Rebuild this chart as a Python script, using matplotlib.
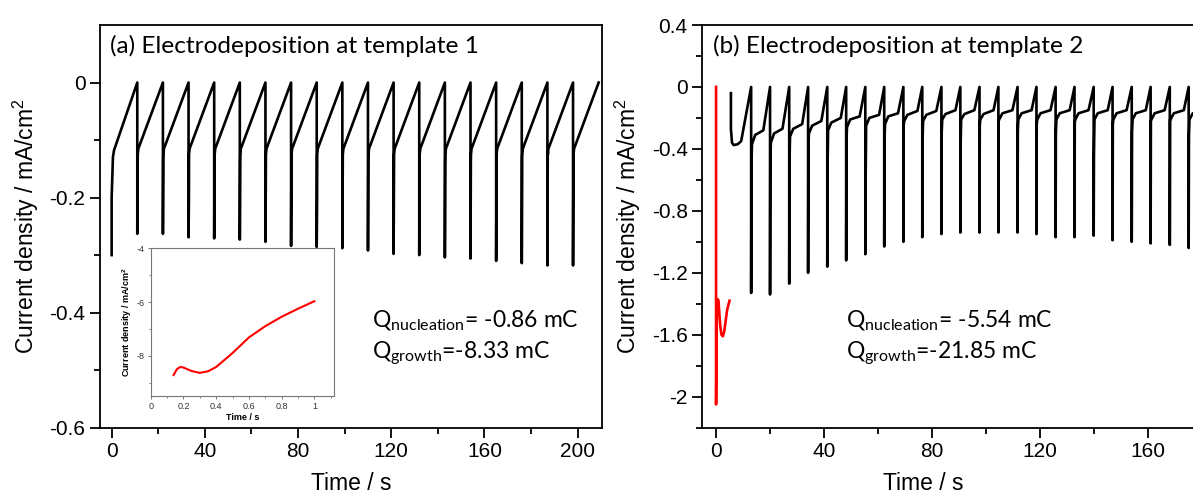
import numpy as np
import matplotlib
matplotlib.use('Agg')
from matplotlib import pyplot as plt
from matplotlib.ticker import MultipleLocator, FuncFormatter

plt.rcParams['font.family'] = ['Liberation Sans', 'DejaVu Sans']
plt.rcParams['axes.unicode_minus'] = False
plt.rcParams['mathtext.default'] = 'regular'

# ---- data ----
# (a) template 1: peaks every ~11 s, spike minima and the dip after each spike
peaks_a = [11, 22, 33, 44, 55, 66, 77, 88, 99, 110, 121, 132, 143, 154, 165, 176, 187, 198, 209]
mins_a = [-0.263, -0.263, -0.269, -0.271, -0.273, -0.277, -0.284, -0.286, -0.288,
          -0.292, -0.298, -0.300, -0.304, -0.306, -0.310, -0.314, -0.318, -0.318]
dips_a = [-0.147, -0.130, -0.205, -0.142, -0.139, -0.176, -0.142, -0.197, -0.168,
          -0.130, -0.168, -0.136, -0.142, -0.136, -0.171, -0.130, -0.121, -0.159]
start_a_t = [0, 0, 0.55, 1.0]
start_a_v = [-0.30, -0.20, -0.13, -0.118]

# (b) template 2: peaks every ~7 s
peaks_b = [13.0, 20.0, 27.1, 34.1, 41.2, 48.2, 55.3, 62.3, 69.4, 76.4, 83.5, 90.5,
           97.6, 104.6, 111.7, 118.7, 125.8, 132.8, 139.9, 146.9, 154.0, 161.0, 168.1, 175.1]
mins_b = [-1.33, -1.34, -1.27, -1.20, -1.16, -1.12, -1.08, -1.03, -1.00, -0.97, -0.95, -0.94,
          -0.94, -0.94, -0.94, -0.95, -0.97, -0.97, -0.96, -0.99, -1.00, -1.01, -1.02, -1.04]
dips_b = [-0.52, -0.49, -0.50, -0.39, -0.54, -0.36, -0.64, -0.35, -0.25, -0.35, -0.29, -0.39,
          -0.25, -0.22, -0.28, -0.24, -0.30, -0.23, -0.45, -0.24, -0.29, -0.22, -0.21, -0.32]
restart_b = [-0.37, -0.36, -0.32, -0.30, -0.28, -0.26, -0.25, -0.24, -0.22, -0.22, -0.21, -0.21,
             -0.21, -0.21, -0.21, -0.21, -0.21, -0.21, -0.21, -0.21, -0.21, -0.21, -0.21, -0.21]
mid_b = [-0.31, -0.30, -0.27, -0.25, -0.23, -0.21, -0.20, -0.19, -0.18, -0.18, -0.175, -0.175,
         -0.175, -0.17, -0.17, -0.17, -0.17, -0.17, -0.17, -0.17, -0.17, -0.17, -0.17, -0.17]
knee_b = [-0.28, -0.27, -0.24, -0.22, -0.20, -0.19, -0.18, -0.17, -0.155, -0.155, -0.15, -0.15,
          -0.15, -0.15, -0.15, -0.15, -0.15, -0.15, -0.15, -0.15, -0.15, -0.15, -0.15, -0.15]
knee_t = [4.5, 4.6, 4.8, 4.9, 5.0, 5.0, 5.1, 5.1, 5.2, 5.2, 5.2, 5.2,
          5.2, 5.2, 5.2, 5.2, 5.2, 5.2, 5.2, 5.2, 5.2, 5.2, 5.2, 5.2]
start_b_t = [5.5, 5.5, 5.9, 6.5, 8.0, 9.3]
start_b_v = [-0.04, -0.27, -0.36, -0.375, -0.37, -0.35]

# nucleation transient (red)
nuc_t = [0, 0, 0.3, 0.6, 0.9, 1.2, 1.6, 2.0, 2.5, 3.0, 3.5, 4.0, 4.5, 5.0]
nuc_v = [0, -2.05, -1.45, -1.37, -1.38, -1.46, -1.55, -1.60, -1.61, -1.58, -1.52, -1.45, -1.41, -1.38]

# inset of (a)
ins_t = [0.14, 0.16, 0.18, 0.20, 0.25, 0.30, 0.35, 0.40, 0.50, 0.60, 0.70, 0.80, 0.90, 1.00]
ins_v = [-8.72, -8.50, -8.42, -8.44, -8.57, -8.64, -8.58, -8.42, -7.90, -7.32, -6.90, -6.55, -6.25, -5.97]


def trace_a():
    t = list(start_a_t)
    v = list(start_a_v)
    for p, m, d in zip(peaks_a[:-1], mins_a, dips_a):
        t += [p, p, p + 0.15, p + 0.2, p + 0.45]
        v += [0, m, d, -0.125, -0.115]
    t.append(peaks_a[-1])
    v.append(0)
    return t, v


def trace_b():
    t = list(start_b_t)
    v = list(start_b_v)
    for i, p in enumerate(peaks_b):
        t += [p, p, p + 0.1, p + 0.3, p + 1.5, p + knee_t[i]]
        v += [0, mins_b[i], dips_b[i], restart_b[i], mid_b[i], knee_b[i]]
    return t, v


W, H = 1193, 501
fig = plt.figure(figsize=(W / 100, H / 100), dpi=100)


def box(x0, y0, x1, y1):
    return [x0 / W, 1 - y1 / H, (x1 - x0) / W, (y1 - y0) / H]


fmt = FuncFormatter(lambda x, pos: '%g' % round(x, 3))


def style(ax):
    for s in ax.spines.values():
        s.set_linewidth(1.3)
    ax.tick_params(which='major', direction='out', length=7, width=1.3, labelsize=15)
    ax.tick_params(which='minor', direction='out', length=4, width=1.3)
    ax.xaxis.set_major_formatter(fmt)
    ax.yaxis.set_major_formatter(fmt)


# ---- (a) ----
ax1 = fig.add_axes(box(100, 25, 601.7, 427.7))
ta, va = trace_a()
ax1.plot(ta, va, color='black', lw=1.9)
ax1.set_xlim(-5, 210.3)
ax1.set_ylim(-0.6, 0.1)
ax1.xaxis.set_major_locator(MultipleLocator(40))
ax1.xaxis.set_minor_locator(MultipleLocator(20))
ax1.set_yticks([-0.6, -0.4, -0.2, 0])
ax1.set_yticks([-0.5, -0.3, -0.1], minor=True)
style(ax1)

ax1.text(110 / W, 1 - 53 / H, '(a) Electrodeposition at template 1', transform=fig.transFigure,
         family='Lato', fontsize=17.6, va='baseline')
ax1.text(372 / W, 1 - 327 / H, r'$\mathregular{Q_{nucleation}}$= -0.86 mC', transform=fig.transFigure,
         family='Lato', fontsize=16.5, va='baseline')
ax1.text(372 / W, 1 - 358 / H, r'$\mathregular{Q_{growth}}$=-8.33 mC', transform=fig.transFigure,
         family='Lato', fontsize=16.5, va='baseline')
fig.text(351 / W, 1 - 483 / H, 'Time / s', fontsize=16.5, ha='center', va='center')
fig.text(26 / W, 1 - 226 / H, 'Current density / mA/cm$^2$', fontsize=16.5,
         rotation=90, ha='center', va='center')

# inset
axi = fig.add_axes(box(150.7, 248.3, 334, 396))
axi.plot(ins_t, ins_v, color='red', lw=1.5)
axi.set_xlim(0, 1.12)
axi.set_ylim(-9.5, -4)
axi.xaxis.set_major_locator(MultipleLocator(0.2))
axi.xaxis.set_minor_locator(MultipleLocator(0.1))
axi.set_yticks([-8, -6, -4])
axi.set_yticks([-9, -7, -5], minor=True)
axi.xaxis.set_major_formatter(fmt)
axi.yaxis.set_major_formatter(fmt)
for s in axi.spines.values():
    s.set_linewidth(0.8)
    s.set_color('#777777')
axi.tick_params(which='both', direction='out', length=2.5, width=0.7, colors='#777777',
                labelsize=6.5, labelcolor='#333333', pad=2)
axi.tick_params(which='minor', length=1.5)
axi.set_xlabel('Time / s', fontsize=6.5, fontweight='bold', labelpad=1)
axi.set_ylabel('Current density / mA/cm$^2$', fontsize=6.5, fontweight='bold', labelpad=2)

# ---- (b) ----
ax2 = fig.add_axes(box(702.3, 25, 1193, 427.7))
ax2.plot(nuc_t, nuc_v, color='red', lw=1.9)
tb, vb = trace_b()
ax2.plot(tb, vb, color='black', lw=1.9)
ax2.set_xlim(-5.1, 176.7)
ax2.set_ylim(-2.2, 0.4)
ax2.xaxis.set_major_locator(MultipleLocator(40))
ax2.xaxis.set_minor_locator(MultipleLocator(20))
ax2.yaxis.set_major_locator(MultipleLocator(0.4))
ax2.yaxis.set_minor_locator(MultipleLocator(0.2))
ax2.spines['right'].set_visible(False)
style(ax2)

ax2.text(713 / W, 1 - 53 / H, '(b) Electrodeposition at template 2', transform=fig.transFigure,
         family='Lato', fontsize=17.6, va='baseline')
ax2.text(846 / W, 1 - 327 / H, r'$\mathregular{Q_{nucleation}}$= -5.54 mC', transform=fig.transFigure,
         family='Lato', fontsize=16.5, va='baseline')
ax2.text(846 / W, 1 - 358 / H, r'$\mathregular{Q_{growth}}$=-21.85 mC', transform=fig.transFigure,
         family='Lato', fontsize=16.5, va='baseline')
fig.text(923 / W, 1 - 483 / H, 'Time / s', fontsize=16.5, ha='center', va='center')
fig.text(628 / W, 1 - 226 / H, 'Current density / mA/cm$^2$', fontsize=16.5,
         rotation=90, ha='center', va='center')

fig.savefig('out.png', dpi=100)
